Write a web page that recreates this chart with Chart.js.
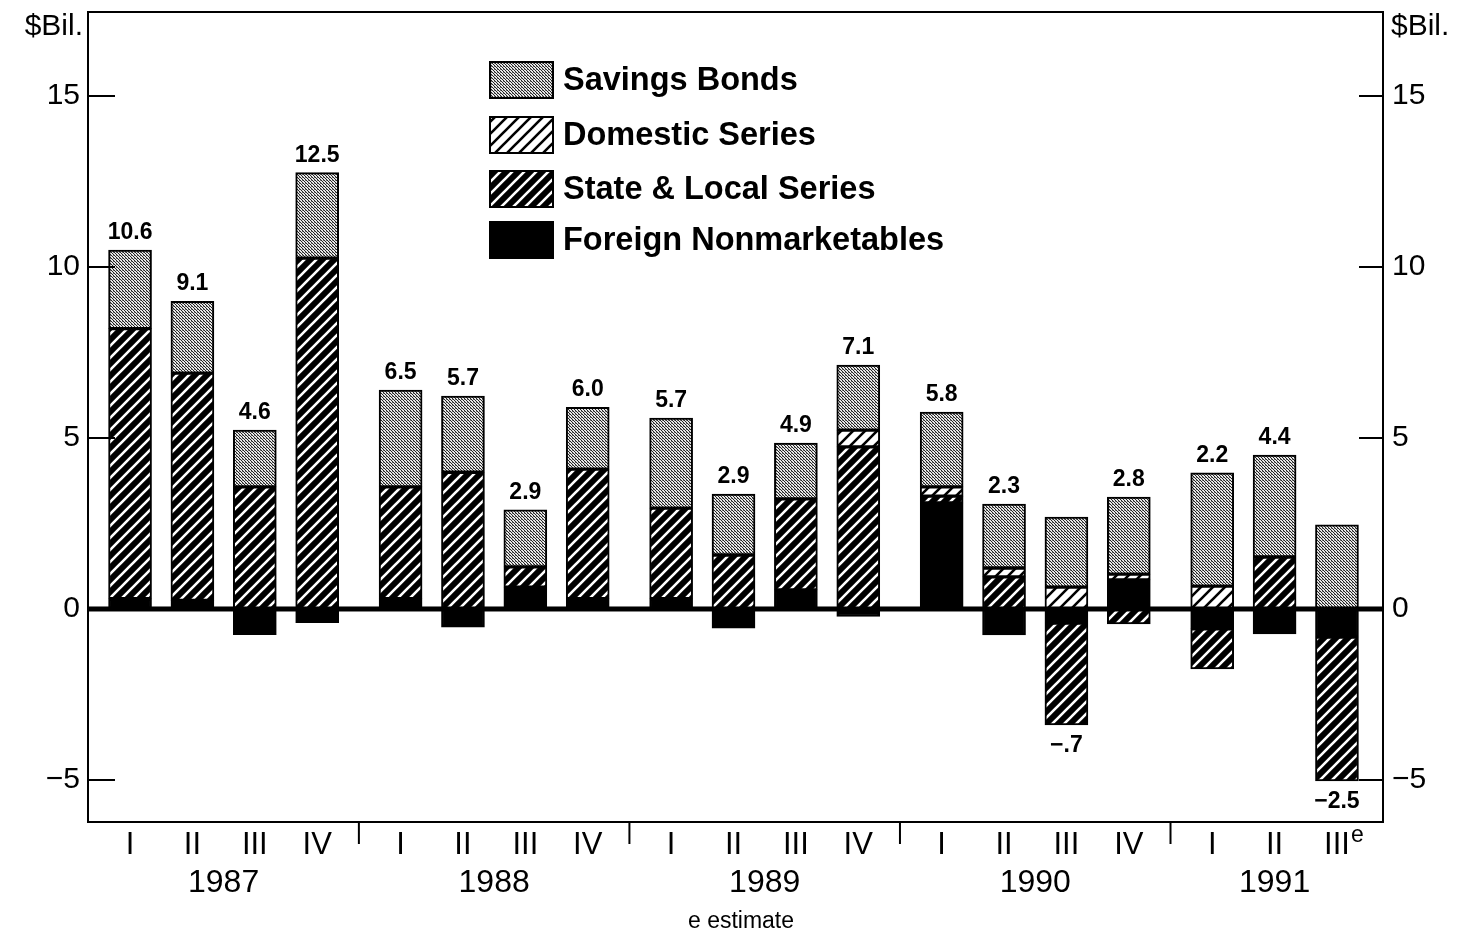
<!DOCTYPE html>
<html>
<head>
<meta charset="utf-8">
<script src="https://cdn.jsdelivr.net/npm/chart.js@4.4.1/dist/chart.umd.min.js"></script>
<style>
  body { margin: 0; background: #fff; }
  #wrap { width: 1466px; height: 934px; }
</style>
</head>
<body>
<div id="wrap"><canvas id="chart" width="1466" height="934"></canvas></div>
<script>
// quarters, grouped by year
const years = ['1987', '1988', '1989', '1990', '1991'];
const quarters = ['I', 'II', 'III', 'IV', 'I', 'II', 'III', 'IV', 'I', 'II', 'III', 'IV',
                  'I', 'II', 'III', 'IV', 'I', 'II', 'III'];
const yearOfBar = [0, 0, 0, 0, 1, 1, 1, 1, 2, 2, 2, 2, 3, 3, 3, 3, 4, 4, 4];

// $ billions
const foreign = [0.3, 0.25, -0.75, -0.4, 0.3, -0.53, 0.64, 0.3, 0.3, -0.56, 0.56, -0.22,
                 3.1, -0.76, -0.41, 0.85, -0.58, -0.73, -0.82];
const stateLocal = [7.9, 6.65, 3.57, 10.26, 3.27, 4.0, 0.59, 3.79, 2.65, 1.58, 2.66, 4.74,
                    0.2, 0.94, -2.98, -0.44, -1.17, 1.52, -4.21];
const domestic = [0, 0, 0, 0, 0, 0, 0, 0, 0, 0, 0, 0.49,
                  0.27, 0.26, 0.64, 0.17, 0.67, 0, 0];
const savings = [2.3, 2.1, 1.66, 2.5, 2.83, 2.23, 1.67, 1.81, 2.63, 1.78, 1.63, 1.9,
                 2.19, 1.87, 2.05, 2.25, 3.31, 2.98, 2.46];
// printed totals
const totalLabels = ['10.6', '9.1', '4.6', '12.5', '6.5', '5.7', '2.9', '6.0', '5.7', '2.9', '4.9', '7.1',
                     '5.8', '2.3', '\u2212.7', '2.8', '2.2', '4.4', '\u22122.5'];
const yTicks = [15, 10, 5, 0, -5];

const YEAR_GAP = 0.337; // extra space between years, in bar slots
const xPos = quarters.map((q, i) => i + yearOfBar[i] * YEAR_GAP);

const FONT = '"Liberation Sans", Arial, Helvetica, sans-serif';

// fill patterns
function hatch(bg, fg, lw) {
  const c = document.createElement('canvas');
  c.width = 12; c.height = 12;
  const g = c.getContext('2d');
  g.fillStyle = bg; g.fillRect(0, 0, 12, 12);
  g.strokeStyle = fg; g.lineWidth = lw;
  g.beginPath();
  g.moveTo(-2, 14); g.lineTo(14, -2);
  g.moveTo(-8, 8); g.lineTo(8, -8);
  g.moveTo(4, 20); g.lineTo(20, 4);
  g.stroke();
  return g.createPattern(c, 'repeat');
}
function dots() {
  const c = document.createElement('canvas');
  c.width = 3; c.height = 3;
  const g = c.getContext('2d');
  g.fillStyle = '#e6e6e6'; g.fillRect(0, 0, 3, 3);
  g.fillStyle = '#222';
  g.fillRect(0, 0, 1, 1); g.fillRect(1, 1, 1, 1); g.fillRect(2, 2, 1, 1);
  g.fillStyle = '#777';
  g.fillRect(2, 0, 1, 1);
  return g.createPattern(c, 'repeat');
}
const ctx0 = document.getElementById('chart').getContext('2d');
const fills = {
  savings: dots(),
  domestic: hatch('#fff', '#000', 2.6),
  state: hatch('#000', '#fff', 2.6),
  foreign: '#000'
};

function series(label, vals, fill) {
  return {
    label: label,
    data: vals.map((v, i) => ({ x: xPos[i], y: v === 0 ? null : v })),
    backgroundColor: fill,
    borderColor: '#000',
    borderWidth: 2,
    borderSkipped: false,
    barThickness: 43
  };
}

const legendItems = [
  ['Savings Bonds', fills.savings],
  ['Domestic Series', fills.domestic],
  ['State & Local Series', fills.state],
  ['Foreign Nonmarketables', fills.foreign]
];

const decorPlugin = {
  id: 'decor',
  afterDatasetsDraw(chart) {
    const ctx = chart.ctx;
    const a = chart.chartArea;
    const xs = chart.scales.x, ys = chart.scales.y;
    ctx.save();

    // zero line
    ctx.fillStyle = '#000';
    const y0 = ys.getPixelForValue(0);
    ctx.fillRect(a.left, y0 - 2.5, a.right - a.left, 5);

    // frame
    ctx.strokeStyle = '#000';
    ctx.lineWidth = 2;
    ctx.strokeRect(a.left, a.top, a.right - a.left, a.bottom - a.top);

    // y ticks and labels on both sides
    ctx.font = '30px ' + FONT;
    ctx.textBaseline = 'middle';
    yTicks.forEach(v => {
      const y = ys.getPixelForValue(v);
      const txt = v < 0 ? '\u2212' + Math.abs(v) : String(v);
      if (v !== 0) {
        ctx.beginPath();
        ctx.moveTo(a.left, y); ctx.lineTo(a.left + 27, y);
        ctx.moveTo(a.right, y); ctx.lineTo(a.right - 24, y);
        ctx.stroke();
      }
      ctx.textAlign = 'right';
      ctx.fillText(txt, a.left - 8, y);
      ctx.textAlign = 'left';
      ctx.fillText(txt, a.right + 9, y);
    });
    ctx.textAlign = 'right';
    ctx.fillText('$Bil.', a.left - 5, 27);
    ctx.textAlign = 'left';
    ctx.fillText('$Bil.', a.right + 8, 27);

    // quarter labels
    ctx.font = '31px ' + FONT;
    ctx.textAlign = 'center';
    quarters.forEach((q, i) => {
      ctx.fillText(q, xs.getPixelForValue(xPos[i]), a.bottom + 23);
    });
    // estimate mark on last quarter
    ctx.font = '23px ' + FONT;
    ctx.textAlign = 'left';
    const last = quarters.length - 1;
    ctx.fillText('e', xs.getPixelForValue(xPos[last]) + 14, a.bottom + 14);

    // year labels and separators
    ctx.font = '32px ' + FONT;
    ctx.textAlign = 'center';
    years.forEach((yr, k) => {
      const idx = yearOfBar.map((y, i) => y === k ? i : -1).filter(i => i >= 0);
      const first = idx[0], lastI = idx[idx.length - 1];
      const mid = (xs.getPixelForValue(xPos[first]) + xs.getPixelForValue(xPos[lastI])) / 2;
      ctx.fillText(yr, mid, a.bottom + 61);
      if (k > 0) {
        const sx = xs.getPixelForValue((xPos[first] + xPos[first - 1]) / 2);
        ctx.beginPath();
        ctx.moveTo(sx, a.bottom); ctx.lineTo(sx, a.bottom + 22);
        ctx.stroke();
      }
    });

    ctx.font = '23px ' + FONT;
    ctx.fillText('e estimate', 741, 922);

    // totals
    ctx.font = 'bold 23px ' + FONT;
    totalLabels.forEach((t, i) => {
      const vals = [foreign[i], stateLocal[i], domestic[i], savings[i]];
      const pos = vals.filter(v => v > 0).reduce((s, v) => s + v, 0);
      const neg = vals.filter(v => v < 0).reduce((s, v) => s + v, 0);
      const x = xs.getPixelForValue(xPos[i]);
      if (t.charAt(0) === '\u2212') {
        ctx.textBaseline = 'top';
        ctx.fillText(t, x, ys.getPixelForValue(neg) + 9);
      } else {
        ctx.textBaseline = 'bottom';
        ctx.fillText(t, x, ys.getPixelForValue(pos) - 6);
      }
    });

    // legend
    ctx.textBaseline = 'middle';
    ctx.textAlign = 'left';
    ctx.font = 'bold 32.5px ' + FONT;
    const rows = [80, 135, 189, 240];
    legendItems.forEach((it, k) => {
      const cy = rows[k];
      ctx.fillStyle = it[1];
      ctx.fillRect(490, cy - 18, 63, 36);
      ctx.strokeStyle = '#000';
      ctx.lineWidth = 2;
      ctx.strokeRect(490, cy - 18, 63, 36);
      ctx.fillStyle = '#000';
      ctx.fillText(it[0], 563, cy + 1);
    });

    ctx.restore();
  }
};

new Chart(ctx0, {
  type: 'bar',
  data: {
    datasets: [
      series('Foreign Nonmarketables', foreign, fills.foreign),
      series('State & Local Series', stateLocal, fills.state),
      series('Domestic Series', domestic, fills.domestic),
      series('Savings Bonds', savings, fills.savings)
    ]
  },
  options: {
    responsive: false,
    animation: false,
    layout: { padding: { left: 88, right: 83, top: 12, bottom: 112 } },
    scales: {
      x: { type: 'linear', min: -0.674, max: 20.086, offset: false, stacked: true, display: false },
      y: { min: -6.23, max: 17.46, stacked: true, display: false }
    },
    plugins: {
      legend: { display: false },
      tooltip: { enabled: false }
    }
  },
  plugins: [decorPlugin]
});
</script>
</body>
</html>
